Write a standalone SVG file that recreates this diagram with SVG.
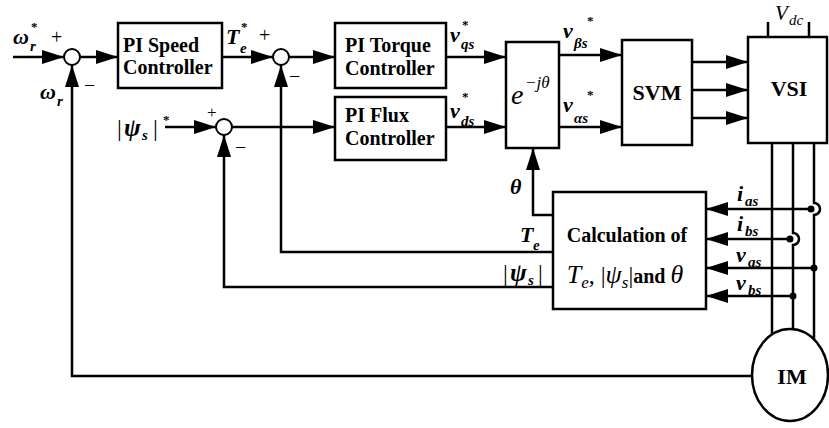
<svg xmlns="http://www.w3.org/2000/svg" width="829" height="428" viewBox="0 0 829 428">
<defs>
<marker id="ah" viewBox="0 0 22 14" markerWidth="22" markerHeight="14" refX="22" refY="7" orient="auto" markerUnits="userSpaceOnUse"><path d="M0,0 L22,7 L0,14 z" fill="#000"/></marker>
<style>
.ln{stroke:#000;stroke-width:2.5;fill:none}
.ar{stroke:#000;stroke-width:2.5;fill:none;marker-end:url(#ah)}
.box{fill:#fff;stroke:#000;stroke-width:2.5}
.sum{fill:#fff;stroke:#000;stroke-width:2}
.t{font-family:"Liberation Serif","Times New Roman",serif;font-weight:bold;font-size:20px;fill:#000}
.big{font-size:22px}
.m{font-family:"Liberation Serif","Times New Roman",serif;font-weight:bold;font-style:italic;font-size:22px;fill:#000}
.mn{font-family:"Liberation Serif","Times New Roman",serif;font-style:italic;fill:#000}
.s{font-size:15px}
.st{font-size:13px;font-style:normal}
.psi{font-size:25px}
.bar{font-family:"Liberation Serif","Times New Roman",serif;font-size:24px;fill:#000}
.pm{font-family:"Liberation Serif","Times New Roman",serif;font-size:20px;fill:#000}
</style>
</defs>
<rect width="829" height="428" fill="#fff"/>

<g id="connectors">
<path class="ar" d="M13,57 H64"/>
<path class="ar" d="M80,57 H118"/>
<path class="ar" d="M222,57 H273"/>
<path class="ar" d="M289,57 H335"/>
<path class="ar" d="M446,57 H506"/>
<path class="ar" d="M446,127 H506"/>
<path class="ar" d="M559,55 H622"/>
<path class="ar" d="M559,127 H622"/>
<path class="ar" d="M692,62 H748"/>
<path class="ar" d="M692,90 H748"/>
<path class="ar" d="M692,118 H748"/>
<path class="ar" d="M165,127 H216"/>
<path class="ar" d="M232,127 H335"/>
<path class="ar" d="M553,215 H533 V148"/>
<path class="ar" d="M553,252 H281 V65"/>
<path class="ar" d="M553,287 H224 V135"/>
<path class="ar" d="M752,376 H72 V65"/>
<path class="ln" d="M768,22 V37 M809,22 V37"/>
<path class="ln" d="M772,143 V345"/>
<path class="ln" d="M793,143 V233 a6,6 0 0 1 0,12 V345"/>
<path class="ln" d="M814,143 V203 a6,6 0 0 1 0,12 V345"/>
<path class="ar" d="M811,209 H706"/>
<path class="ar" d="M790,239 H706"/>
<path class="ar" d="M814,268 H706"/>
<path class="ar" d="M793,296 H706"/>
<circle cx="811" cy="209" r="3.5" fill="#000"/>
<circle cx="790" cy="239" r="3.5" fill="#000"/>
<circle cx="814" cy="268" r="3.5" fill="#000"/>
<circle cx="793" cy="296" r="3.5" fill="#000"/>
</g>

<g id="sum1"><circle class="sum" cx="72" cy="57" r="8"/></g>
<g id="sum2"><circle class="sum" cx="281" cy="57" r="8"/></g>
<g id="sum3"><circle class="sum" cx="224" cy="127" r="8"/></g>

<g id="speed-controller">
<rect class="box" x="118" y="23" width="104" height="65"/>
<text class="t" x="123" y="52">PI Speed</text>
<text class="t" x="123" y="74">Controller</text>
</g>
<g id="torque-controller">
<rect class="box" x="335" y="23" width="111" height="65"/>
<text class="t" x="345" y="52">PI Torque</text>
<text class="t" x="345" y="75">Controller</text>
</g>
<g id="flux-controller">
<rect class="box" x="335" y="97" width="111" height="63"/>
<text class="t" x="345" y="122">PI Flux</text>
<text class="t" x="345" y="145">Controller</text>
</g>
<g id="transform">
<rect class="box" x="506" y="42" width="53" height="106"/>
<text class="mn" x="511" y="104" style="font-size:28px">e</text>
<text class="mn" x="525" y="88" style="font-size:17px">−jθ</text>
</g>
<g id="svm">
<rect class="box" x="622" y="40" width="70" height="105"/>
<text class="t big" x="657" y="100" text-anchor="middle">SVM</text>
</g>
<g id="vsi">
<rect class="box" x="748" y="37" width="79" height="106"/>
<text class="t big" x="789" y="96" text-anchor="middle">VSI</text>
<text class="mn" x="775" y="20" style="font-size:21px">V</text>
<text class="mn" x="789" y="25" style="font-size:15px">dc</text>
</g>
<g id="calculation">
<rect class="box" x="553" y="192" width="153" height="117"/>
<text class="t" x="627" y="242" text-anchor="middle">Calculation of</text>
<text x="625" y="283" text-anchor="middle" style="font-family:'Liberation Serif','Times New Roman',serif;fill:#000"><tspan font-style="italic" font-size="26">T</tspan><tspan font-style="italic" font-size="17" dy="5">e</tspan><tspan dy="-5" font-size="24">, |</tspan><tspan font-style="italic" font-size="26">ψ</tspan><tspan font-style="italic" font-size="17" dy="5">s</tspan><tspan dy="-5" font-size="24">|</tspan><tspan font-weight="bold" font-size="20">and </tspan><tspan font-style="italic" font-size="26">θ</tspan></text>
</g>
<g id="motor">
<ellipse cx="790" cy="375" rx="38" ry="46" fill="#fff" stroke="#000" stroke-width="2.5"/>
<text class="t big" x="792" y="384" text-anchor="middle">IM</text>
</g>

<g id="labels">
<text class="m" x="13" y="44">ω</text><text class="m s" x="30" y="51">r</text><text class="m st" x="31" y="31">*</text>
<text class="pm" x="51" y="44">+</text>
<text class="m" x="40" y="99">ω</text><text class="m s" x="57" y="106">r</text>
<text class="pm" x="84" y="92">−</text>
<text class="m" x="226" y="44">T</text><text class="m s" x="240" y="53">e</text><text class="m st" x="241" y="31">*</text>
<text class="pm" x="259" y="42">+</text>
<text class="pm" x="289" y="83">−</text>
<text class="bar" x="117" y="136">|</text><text class="m psi" x="124" y="136">ψ</text><text class="m s" x="142" y="140">s</text><text class="bar" x="153" y="136">|</text><text class="m st" x="163" y="124">*</text>
<text class="pm" x="207" y="118" style="font-size:17px">+</text>
<text class="pm" x="235" y="154">−</text>
<text class="m" x="450" y="42">v</text><text class="m s" x="461" y="49">qs</text><text class="m st" x="462" y="29">*</text>
<text class="m" x="450" y="118">v</text><text class="m s" x="461" y="126">ds</text><text class="m st" x="462" y="101">*</text>
<text class="m" x="563" y="38">v</text><text class="m s" x="574" y="48">βs</text><text class="m st" x="587" y="25">*</text>
<text class="m" x="563" y="112">v</text><text class="m s" x="574" y="123">αs</text><text class="m st" x="587" y="99">*</text>
<text class="m" x="510" y="194">θ</text>
<text class="m" x="520" y="242">T</text><text class="m s" x="533" y="250">e</text>
<text class="bar" x="503" y="281">|</text><text class="m psi" x="510" y="281">ψ</text><text class="m s" x="528" y="285">s</text><text class="bar" x="538" y="281">|</text>
<text class="m" x="737" y="201">i</text><text class="m s" x="745" y="206">as</text>
<text class="m" x="737" y="231">i</text><text class="m s" x="745" y="236">bs</text>
<text class="m" x="736" y="262">v</text><text class="m s" x="748" y="267">as</text>
<text class="m" x="736" y="290">v</text><text class="m s" x="748" y="295">bs</text>
</g>
</svg>
